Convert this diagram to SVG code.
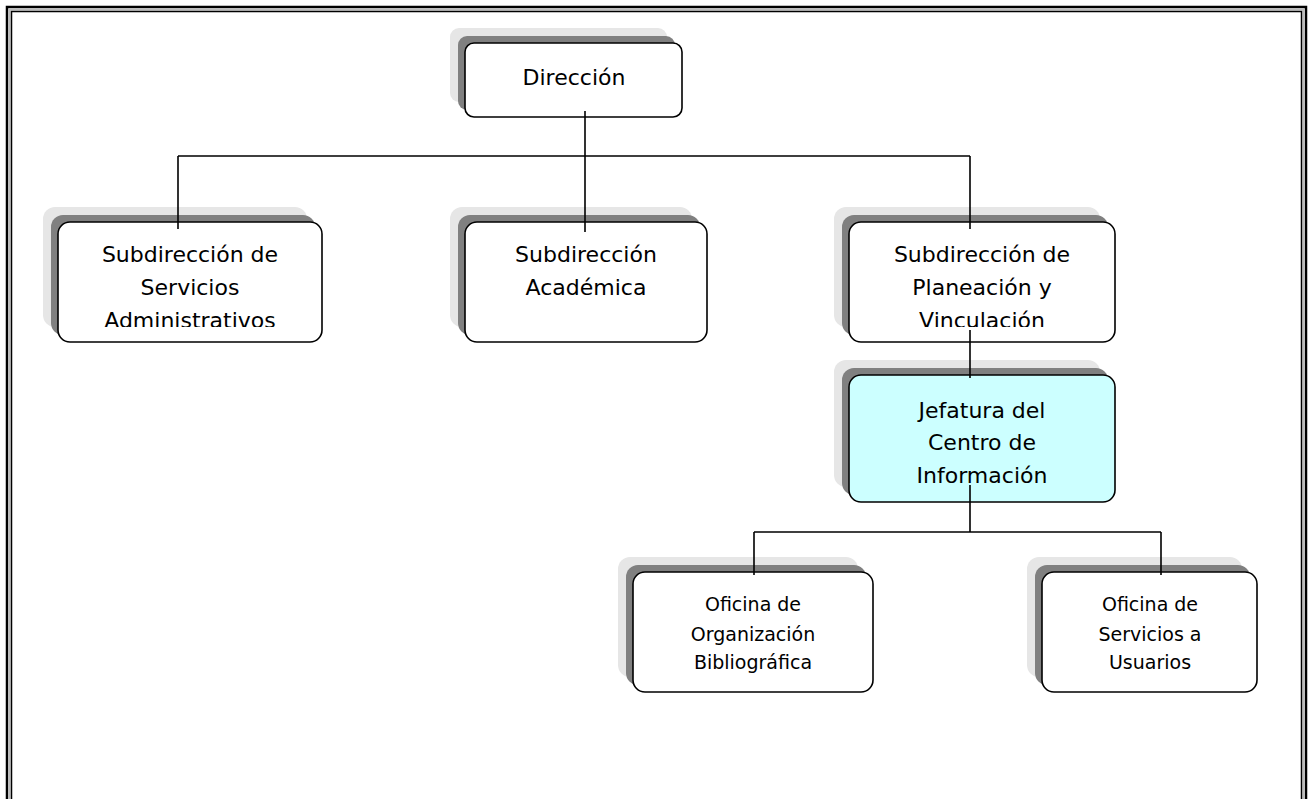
<svg xmlns="http://www.w3.org/2000/svg" width="1310" height="799" viewBox="0 0 1310 799">
<style>
.sh2{fill:#e6e6e6;stroke:none}
.sh1{fill:#808080;stroke:none}
.box{fill:#ffffff;stroke:#000;stroke-width:1.6}
.hl{fill:#ccffff}
.t{font-family:"Comic Sans MS","DejaVu Sans",sans-serif;font-size:22px;fill:#000;text-anchor:middle}
.s{font-size:19px}
.con{stroke:#000;stroke-width:1.6;fill:none}
</style>
<defs>
<clipPath id="c1"><rect x="0" y="0" width="1310" height="327"/></clipPath>
</defs>
<rect x="0" y="0" width="1310" height="799" fill="#fff"/>
<g id="frame" fill="none">
<path d="M7 805 V7 H1306 V805" stroke="#000" stroke-width="2.5"/>
<path d="M9.5 805 V9.5 H1303.5 V805" stroke="#bbb" stroke-width="2"/>
<path d="M11.5 805 V11.5 H1301.5 V805" stroke="#000" stroke-width="1.5"/>
</g>
<g id="n-direccion">
<rect class="sh2" x="450" y="28" width="217" height="74" rx="9"/>
<rect class="sh1" x="458" y="36" width="217" height="74" rx="9"/>
<rect class="box" x="465" y="43" width="217" height="74" rx="9"/>
<text class="t" x="574" y="85">Dirección</text>
</g>
<g id="n-sub-admin">
<rect class="sh2" x="43" y="207" width="264" height="120" rx="12"/>
<rect class="sh1" x="51" y="215" width="264" height="120" rx="12"/>
<rect class="box" x="58" y="222" width="264" height="120" rx="12"/>
<text class="t" clip-path="url(#c1)"><tspan x="190" y="262">Subdirección de</tspan><tspan x="190" y="295">Servicios</tspan><tspan x="190" y="328">Administrativos</tspan></text>
</g>
<g id="n-sub-acad">
<rect class="sh2" x="450" y="207" width="242" height="120" rx="12"/>
<rect class="sh1" x="458" y="215" width="242" height="120" rx="12"/>
<rect class="box" x="465" y="222" width="242" height="120" rx="12"/>
<text class="t"><tspan x="586" y="262">Subdirección</tspan><tspan x="586" y="295">Académica</tspan></text>
</g>
<g id="n-sub-plan">
<rect class="sh2" x="834" y="207" width="266" height="120" rx="12"/>
<rect class="sh1" x="842" y="215" width="266" height="120" rx="12"/>
<rect class="box" x="849" y="222" width="266" height="120" rx="12"/>
<text class="t" clip-path="url(#c1)"><tspan x="982" y="262">Subdirección de</tspan><tspan x="982" y="295">Planeación y</tspan><tspan x="982" y="328">Vinculación</tspan></text>
</g>
<g id="n-jefatura">
<rect class="sh2" x="834" y="360" width="266" height="127" rx="12"/>
<rect class="sh1" x="842" y="368" width="266" height="127" rx="12"/>
<rect class="box hl" x="849" y="375" width="266" height="127" rx="12"/>
<text class="t"><tspan x="982" y="418">Jefatura del</tspan><tspan x="982" y="450">Centro de</tspan><tspan x="982" y="483">Información</tspan></text>
</g>
<g id="n-of-org">
<rect class="sh2" x="618" y="557" width="240" height="120" rx="12"/>
<rect class="sh1" x="626" y="565" width="240" height="120" rx="12"/>
<rect class="box" x="633" y="572" width="240" height="120" rx="12"/>
<text class="t s"><tspan x="753" y="611">Oficina de</tspan><tspan x="753" y="641">Organización</tspan><tspan x="753" y="669">Bibliográfica</tspan></text>
</g>
<g id="n-of-serv">
<rect class="sh2" x="1027" y="557" width="215" height="120" rx="12"/>
<rect class="sh1" x="1035" y="565" width="215" height="120" rx="12"/>
<rect class="box" x="1042" y="572" width="215" height="120" rx="12"/>
<text class="t s"><tspan x="1150" y="611">Oficina de</tspan><tspan x="1150" y="641">Servicios a</tspan><tspan x="1150" y="669">Usuarios</tspan></text>
</g>
<g id="connectors">
<path class="con" d="M585 111 V156 M178 156 H970 M178 156 V229 M585 156 V232 M970 156 V229"/>
<path class="con" d="M970 330 V378"/>
<path class="con" d="M970 485 V532 M754 532 H1161 M754 532 V575 M1161 532 V575"/>
</g>
</svg>
